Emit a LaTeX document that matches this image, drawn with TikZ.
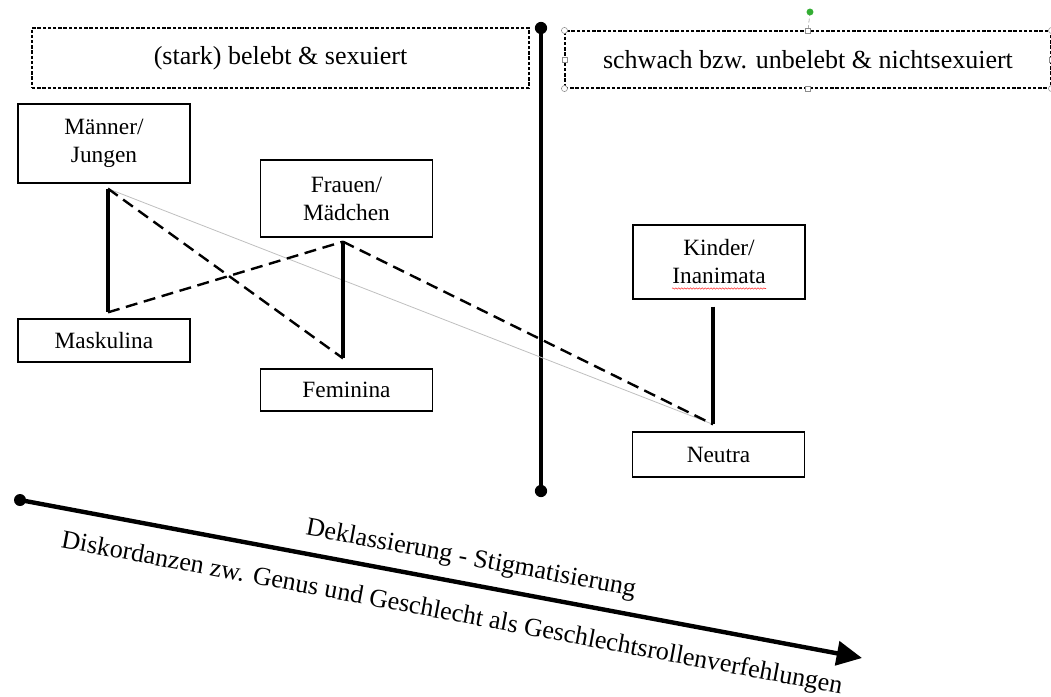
\documentclass[tikz,border=0pt]{standalone}
\usepackage{fontspec}
\setmainfont{Liberation Serif}
\usetikzlibrary{arrows.meta,calc,decorations.pathmorphing}

\tikzset{
  catbox/.style={draw,line width=1pt,minimum width=129pt,align=center,
    inner sep=0pt,font=\fontsize{17.5}{21}\selectfont},
  headbox/.style={draw,line width=0.8pt,dash pattern=on 2.6pt off 1.3pt,
    inner sep=0pt,font=\fontsize{19.5}{23}\selectfont},
  link/.style={line width=2.6pt},
  cross/.style={line width=1.8pt,dash pattern=on 9pt off 5pt},
  faint/.style={line width=0.6pt,black!25},
  handle/.style={draw=black!45,fill=white,line width=0.4pt},
  slant/.style={font=\fontsize{19.5}{23}\selectfont,inner sep=0pt}
}

\begin{document}
\begin{tikzpicture}[x=0.75pt,y=-0.75pt]
\useasboundingbox (0,0) rectangle (1051,697);

% headings
\node[headbox,minimum width=372.75pt,minimum height=45pt] (lhead) at (280.5,58) {(stark) belebt \& sexuiert};
\node[headbox,minimum width=364.5pt,minimum height=42.75pt] (rhead) at (808,59.5) {schwach bzw. unbelebt \& nichtsexuiert};

% selection handles
\coordinate (rot) at (810,12);
\draw[black!45,densely dashed,line width=0.4pt] (rot) -- (rhead.north);
\fill[green!60!black!80] (rot) circle (2.6pt);
\foreach \a in {north west,south west,north east,south east}
  \draw[handle] (rhead.\a) circle (2.3pt);
\foreach \a in {north,south,west,east}
  \draw[handle] ($(rhead.\a)+(-2.5,-2.5)$) rectangle ++(5,5);

% divider
\coordinate (dtop) at (541,28);
\coordinate (dbot) at (541,491);
\draw[line width=2.3pt] (dtop) -- (dbot);
\fill (dtop) circle (4.6pt);
\fill (dbot) circle (4.6pt);

% categories
\node[catbox,minimum height=59.25pt] (mann) at (104,143.5) {Männer/\\Jungen};
\node[catbox,minimum height=32.25pt] (mask) at (104,340.5) {Maskulina};
\node[catbox,minimum height=57.75pt] (frau) at (346.5,198.5) {Frauen/\\Mädchen};
\node[catbox,minimum height=31.5pt] (femi) at (346.5,390) {Feminina};
\node[catbox,minimum height=55.5pt] (kind) at (719,262) {Kinder/\\Inanimata};
\node[catbox,minimum height=33.75pt] (neut) at (718.5,454.5) {Neutra};

% spelling mark
\draw[red!80,line width=0.4pt,decorate,decoration={snake,amplitude=0.5pt,segment length=2.2pt}]
  (672,288.5) -- (766,288.5);

% link points
\coordinate (m1) at ($(mann.south)+(4,5)$);
\coordinate (m2) at ($(mask.north)+(4,-6)$);
\coordinate (f1) at ($(frau.south)+(-3.5,4)$);
\coordinate (f2) at ($(femi.north)+(-3.5,-10)$);
\coordinate (k1) at ($(kind.south)+(-6,7)$);
\coordinate (n1) at ($(neut.north)+(-5.5,-7)$);

\draw[faint] (m1) -- (n1);
\draw[link] (m1) -- (m2);
\draw[link] (f1) -- (f2);
\draw[link] (k1) -- (n1);
\draw[cross] (m1) -- (f2);
\draw[cross] (m2) -- (f1);
\draw[cross] (f1) -- (n1);

% scale
\coordinate (astart) at (20,500);
\coordinate (aend) at (862,658);
\fill (astart) circle (4.5pt);
\draw[line width=3.3pt,-{Triangle[length=19pt,width=18pt]}] (astart) -- (aend)
  node[slant,pos=0.53,sloped,above=8pt] (dekl) {Deklassierung - Stigmatisierung}
  node[slant,pos=0.52,sloped,below=14pt] (disk) {Diskordanzen zw. Genus und Geschlecht als Geschlechtsrollenverfehlungen};
\end{tikzpicture}
\end{document}
